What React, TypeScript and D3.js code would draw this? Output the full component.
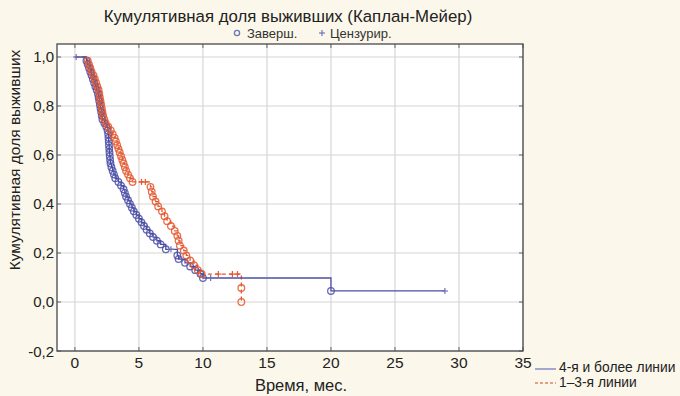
import React, { useEffect, useRef } from "react";
import * as d3 from "d3";

// Kaplan-Meier steps: time (months) and survival after the event
const blueTimes = [0.9, 1.0, 1.1, 1.2, 1.3, 1.4, 1.5, 1.6, 1.7, 1.8, 1.85, 1.9, 1.95, 2.0, 2.05, 2.1, 2.15, 2.3, 2.45, 2.55, 2.6, 2.62, 2.64, 2.66, 2.68, 2.7, 2.72, 2.75, 2.78, 2.85, 2.95, 3.05, 3.15, 3.4, 3.6, 3.8, 3.9, 4.0, 4.15, 4.3, 4.45, 4.6, 4.8, 5.0, 5.2, 5.4, 5.6, 5.85, 6.1, 6.4, 6.7, 7.1, 8.0, 8.1, 8.6, 9.0, 9.4, 9.8, 10.0, 20.0];
const blueSurv = [0.985, 0.97, 0.955, 0.94, 0.925, 0.91, 0.895, 0.88, 0.865, 0.85, 0.835, 0.82, 0.805, 0.79, 0.775, 0.76, 0.745, 0.73, 0.715, 0.7, 0.685, 0.67, 0.655, 0.64, 0.625, 0.61, 0.595, 0.58, 0.565, 0.55, 0.535, 0.52, 0.505, 0.49, 0.475, 0.46, 0.445, 0.43, 0.415, 0.4, 0.385, 0.37, 0.355, 0.34, 0.325, 0.31, 0.295, 0.28, 0.265, 0.25, 0.235, 0.215, 0.19, 0.175, 0.16, 0.145, 0.13, 0.115, 0.098, 0.045];
const blueCensT = [0.1, 7.5, 10.6, 28.9];
const blueEnd = 28.9;

const redTimes = [1.0, 1.1, 1.2, 1.3, 1.45, 1.55, 1.65, 1.75, 1.85, 1.9, 1.95, 2.0, 2.05, 2.1, 2.15, 2.2, 2.3, 2.4, 2.6, 2.8, 2.95, 3.1, 3.2, 3.3, 3.4, 3.5, 3.6, 3.7, 3.8, 3.9, 4.0, 4.15, 4.3, 4.5, 5.9, 6.0, 6.1, 6.3, 6.5, 6.8, 7.0, 7.2, 7.5, 7.8, 8.0, 8.1, 8.2, 8.5, 8.7, 9.0, 9.3, 9.6, 9.9, 13.0, 13.0];
const redSurv = [0.985, 0.97, 0.955, 0.94, 0.925, 0.91, 0.895, 0.88, 0.865, 0.85, 0.835, 0.82, 0.805, 0.79, 0.775, 0.76, 0.745, 0.73, 0.715, 0.7, 0.685, 0.67, 0.655, 0.64, 0.625, 0.61, 0.595, 0.58, 0.565, 0.55, 0.535, 0.52, 0.505, 0.49, 0.47, 0.45, 0.43, 0.41, 0.39, 0.37, 0.35, 0.33, 0.31, 0.29, 0.27, 0.25, 0.23, 0.21, 0.19, 0.17, 0.15, 0.13, 0.114, 0.057, 0.0];
const redCensT = [5.2, 5.5, 11.2, 12.3, 12.7];

const xTicks = [0, 5, 10, 15, 20, 25, 30, 35];
const yTicks = [-0.2, 0, 0.2, 0.4, 0.6, 0.8, 1.0];

const BLUE = "#4b4fa6";
const RED = "#e4572e";

// survival value at time t (right-continuous step)
function survAt(times: number[], surv: number[], t: number) {
  let s = 1;
  for (let i = 0; i < times.length; i++) if (times[i] <= t) s = surv[i];
  return s;
}

function stepPts(times: number[], surv: number[], end: number): [number, number][] {
  const pts: [number, number][] = [[0, 1]];
  times.forEach((t, i) => pts.push([t, surv[i]]));
  pts.push([end, surv[surv.length - 1]]);
  return pts;
}

const App: React.FC = () => {
  const svgRef = useRef<SVGSVGElement>(null);

  useEffect(() => {
    if (!svgRef.current) return;
    const svg = d3.select(svgRef.current);
    svg.selectAll("*").remove();

    const x = d3.scaleLinear().domain([-1.4, 35]).range([57, 523]);
    const y = d3.scaleLinear().domain([-0.2, 1.053]).range([351, 44]);
    const font = "Liberation Sans, Arial, sans-serif";

    svg.append("rect").attr("width", 680).attr("height", 396).attr("fill", "#fbf7ea");
    svg.append("rect")
      .attr("x", 57).attr("y", 44).attr("width", 466).attr("height", 307)
      .attr("fill", "#ffffff");

    // grid
    const g = svg.append("g");
    g.selectAll("line.gx").data(xTicks).join("line")
      .attr("x1", d => x(d)).attr("x2", d => x(d)).attr("y1", 44).attr("y2", 351)
      .attr("stroke", "#d6d6d6").attr("stroke-width", 1.2);
    g.selectAll("line.gy").data(yTicks).join("line")
      .attr("y1", d => y(d)).attr("y2", d => y(d)).attr("x1", 57).attr("x2", 523)
      .attr("stroke", "#d6d6d6").attr("stroke-width", 1.2);

    // small ticks on the frame
    g.selectAll("line.tt").data(xTicks).join("line")
      .attr("x1", d => x(d)).attr("x2", d => x(d)).attr("y1", 44).attr("y2", 48)
      .attr("stroke", "#666");
    g.selectAll("line.tb").data(xTicks).join("line")
      .attr("x1", d => x(d)).attr("x2", d => x(d)).attr("y1", 351).attr("y2", 347)
      .attr("stroke", "#666");
    g.selectAll("line.tl").data(yTicks).join("line")
      .attr("y1", d => y(d)).attr("y2", d => y(d)).attr("x1", 57).attr("x2", 61)
      .attr("stroke", "#666");
    g.selectAll("line.tr").data(yTicks).join("line")
      .attr("y1", d => y(d)).attr("y2", d => y(d)).attr("x1", 523).attr("x2", 519)
      .attr("stroke", "#666");

    svg.append("rect")
      .attr("x", 57).attr("y", 44).attr("width", 466).attr("height", 307)
      .attr("fill", "none").attr("stroke", "#4a4a4a").attr("stroke-width", 1.3);

    // tick labels
    svg.selectAll("text.xt").data(xTicks).join("text")
      .attr("x", d => x(d)).attr("y", 368).attr("text-anchor", "middle")
      .attr("font-family", font).attr("font-size", 15.5).attr("fill", "#222")
      .text(d => String(d));
    svg.selectAll("text.yt").data(yTicks).join("text")
      .attr("x", 54).attr("y", d => y(d) + 5.5).attr("text-anchor", "end")
      .attr("font-family", font).attr("font-size", 15).attr("fill", "#222")
      .text(d => d3.format(".1f")(d).replace(".", ",").replace("−", "-"));

    const line = d3.line<[number, number]>()
      .x(d => x(d[0])).y(d => y(d[1]))
      .curve(d3.curveStepAfter);

    const plot = svg.append("g");
    // red (1-3 lines) dashed
    plot.append("path")
      .datum(stepPts(redTimes, redSurv, 13.0))
      .attr("fill", "none").attr("stroke", RED).attr("stroke-width", 1.3)
      .attr("stroke-dasharray", "4,3").attr("d", line);
    // blue (4+ lines) solid
    plot.append("path")
      .datum(stepPts(blueTimes, blueSurv, blueEnd))
      .attr("fill", "none").attr("stroke", BLUE).attr("stroke-width", 1.3)
      .attr("d", line);

    const drawCircles = (times: number[], surv: number[], color: string) => {
      plot.append("g").selectAll("circle").data(times).join("circle")
        .attr("cx", d => x(d)).attr("cy", (d, i) => y(surv[i]))
        .attr("r", 3.3).attr("fill", "none").attr("stroke", color)
        .attr("stroke-width", 1.3).attr("opacity", 0.85);
    };
    const drawPlus = (times: number[], tArr: number[], sArr: number[], color: string) => {
      const gp = plot.append("g").attr("stroke", color).attr("stroke-width", 1.2);
      times.forEach(t => {
        const cx = x(t), cy = y(survAt(tArr, sArr, t));
        gp.append("line").attr("x1", cx - 3).attr("x2", cx + 3).attr("y1", cy).attr("y2", cy);
        gp.append("line").attr("x1", cx).attr("x2", cx).attr("y1", cy - 3).attr("y2", cy + 3);
      });
    };
    drawCircles(blueTimes, blueSurv, BLUE);
    drawCircles(redTimes, redSurv, RED);
    drawPlus(blueCensT, blueTimes, blueSurv, "#7073b8");
    drawPlus(redCensT, redTimes, redSurv, RED);

    // title and legend
    svg.append("text").attr("x", 288).attr("y", 22).attr("text-anchor", "middle")
      .attr("font-family", font).attr("font-size", 16.8).attr("fill", "#222")
      .text("Кумулятивная доля выживших (Каплан-Мейер)");
    svg.append("circle").attr("cx", 237).attr("cy", 33).attr("r", 2.6)
      .attr("fill", "none").attr("stroke", "#6a78b8").attr("stroke-width", 1.3);
    svg.append("text").attr("x", 247).attr("y", 37.5)
      .attr("font-family", font).attr("font-size", 13).attr("fill", "#333").text("Заверш.");
    const lp = svg.append("g").attr("stroke", "#6a78b8").attr("stroke-width", 1.2);
    lp.append("line").attr("x1", 319).attr("x2", 325).attr("y1", 33).attr("y2", 33);
    lp.append("line").attr("x1", 322).attr("x2", 322).attr("y1", 30).attr("y2", 36);
    svg.append("text").attr("x", 330).attr("y", 37.5)
      .attr("font-family", font).attr("font-size", 13).attr("fill", "#333").text("Цензурир.");

    // axis titles
    svg.append("text").attr("x", 301).attr("y", 391).attr("text-anchor", "middle")
      .attr("font-family", font).attr("font-size", 16.5).attr("fill", "#222").text("Время, мес.");
    svg.append("text").attr("transform", "translate(20,160) rotate(-90)")
      .attr("text-anchor", "middle")
      .attr("font-family", font).attr("font-size", 15.5).attr("fill", "#222")
      .text("Кумулятивная доля выживших");

    // series legend bottom right
    svg.append("line").attr("x1", 535).attr("x2", 556).attr("y1", 369).attr("y2", 369)
      .attr("stroke", "#8a8dc4").attr("stroke-width", 1.5);
    svg.append("text").attr("x", 559).attr("y", 372)
      .attr("font-family", font).attr("font-size", 13.8).attr("fill", "#222").text("4-я и более линии");
    svg.append("line").attr("x1", 535).attr("x2", 556).attr("y1", 383).attr("y2", 383)
      .attr("stroke", "#e0806a").attr("stroke-width", 1.5).attr("stroke-dasharray", "3,2");
    svg.append("text").attr("x", 559).attr("y", 387)
      .attr("font-family", font).attr("font-size", 13.8).attr("fill", "#222").text("1–3-я линии");
  }, []);

  return (
    <div style={{ position: "fixed", left: 0, top: 0 }}>
      <svg ref={svgRef} width={680} height={396} style={{ display: "block" }} />
    </div>
  );
};

export default App;
